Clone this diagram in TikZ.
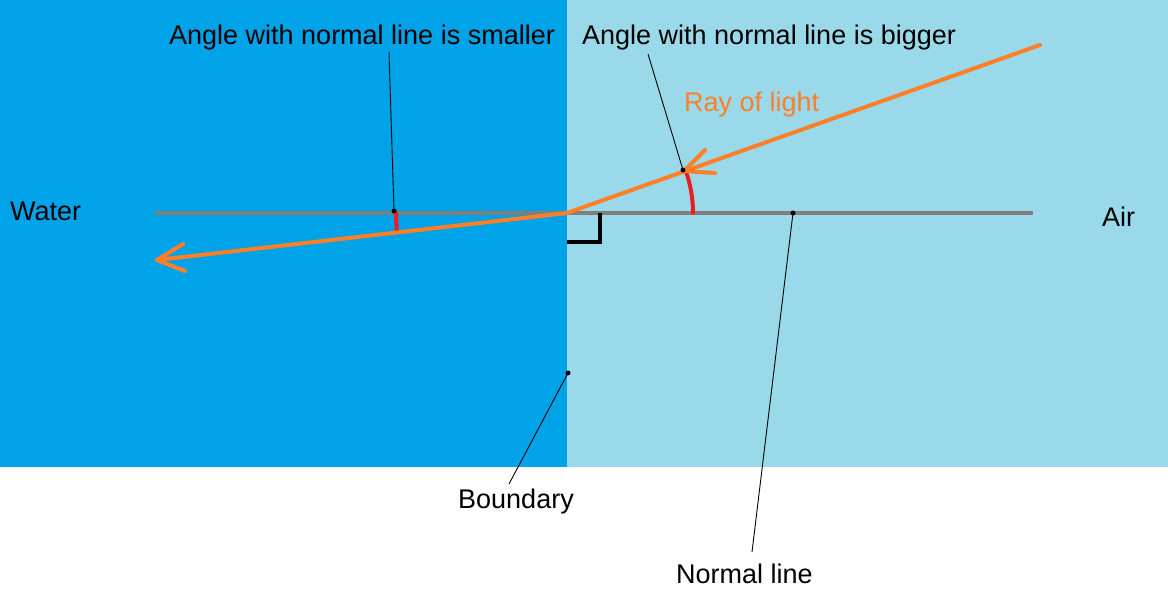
\documentclass[tikz,border=0pt]{standalone}
\usepackage{fontspec}
\setmainfont{Liberation Sans}
\definecolor{water}{HTML}{00A2E8}
\definecolor{air}{HTML}{99D9EA}
\definecolor{ray}{HTML}{FF7F27}
\definecolor{normalc}{HTML}{7F7F7F}
\definecolor{arcred}{HTML}{ED1C24}
\begin{document}
\begin{tikzpicture}[x=1pt,y=-1pt,
  lbl/.style={inner sep=0pt,anchor=base west,font=\fontsize{27}{31}\selectfont},
  raypath/.style={draw=ray,line width=4pt,line cap=round,line join=round},
  leader/.style={draw=black,line width=0.9pt},
  dotmark/.style={circle,fill=black,inner sep=0pt,minimum size=5pt},
  anglearc/.style={draw=arcred,line width=4pt,line cap=round}]
\useasboundingbox (0,0) rectangle (1168,614);
\fill[white] (0,0) rectangle (1168,614);
\fill[water] (0,0) rectangle (567,467);
\fill[air] (567,0) rectangle (1168,467);
% normal line
\draw[normalc,line width=4.5pt] (155,213) -- (1033,213);
% right angle mark
\draw[black,line width=4pt] (567,242) -- (600,242) -- (600,213);
% key points
\coordinate (src) at (1040,45);
\coordinate (hit) at (567,213);
\coordinate (tipR) at (684,171);
\coordinate (tipL) at (157,260);
% red angle arcs
\draw[anglearc] (693,213) arc[start angle=0,end angle=-19.5,radius=126];
\draw[anglearc] (396,213) arc[start angle=180,end angle=173.6,radius=171];
% ray
\draw[raypath] (src) -- (hit) -- (tipL);
\draw[raypath] (705,150) -- (tipR) -- (715,173);
\draw[raypath] (183,244) -- (tipL) -- (185,271);
% dots
\node[dotmark] (dS) at (394,211) {};
\node[dotmark] (dB) at (683,170) {};
\node[dotmark] (dBd) at (568,373) {};
\node[dotmark] (dN) at (793,213) {};
% labels
\node[lbl] (tS) at (169,44) {Angle with normal line is smaller};
\node[lbl] (tB) at (582,44) {Angle with normal line is bigger};
\node[lbl,text=ray] (tR) at (684,111) {Ray of light};
\node[lbl] (tW) at (10,220) {Water};
\node[lbl] (tA) at (1102,226) {Air};
\node[lbl] (tBd) at (458,508) {Boundary};
\node[lbl] (tN) at (676,583) {Normal line};
% leader start points
\coordinate (lS) at (389,52);
\coordinate (lB) at (648,54);
\coordinate (lBd) at (509,484);
\coordinate (lN) at (752,552);
\draw[leader] (lS) -- (dS.center);
\draw[leader] (lB) -- (dB.center);
\draw[leader] (lBd) -- (dBd.center);
\draw[leader] (lN) -- (dN.center);
\end{tikzpicture}
\end{document}
